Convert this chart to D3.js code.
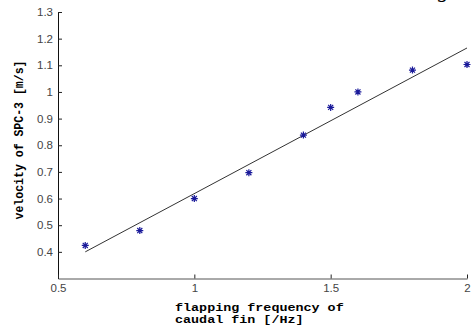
<!DOCTYPE html>
<html>
<head>
<meta charset="utf-8">
<script src="https://cdn.jsdelivr.net/npm/d3@7"></script>
<style>
  body { margin: 0; background: #fff; }
  svg { display: block; }
</style>
</head>
<body>
<div id="chart"></div>
<script>
// measured points (frequency, velocity)
const freq = [0.6, 0.8, 1.0, 1.2, 1.4, 1.5, 1.6, 1.8, 2.0];
const velocity = [0.424, 0.48, 0.6, 0.697, 0.838, 0.942, 1.0, 1.082, 1.103];
// fitted line end points
const fitX = [0.6, 2.0];
const fitY = [0.40, 1.165];
const xTicks = [0.5, 1, 1.5, 2];
const yTicks = [0.4, 0.5, 0.6, 0.7, 0.8, 0.9, 1, 1.1, 1.2, 1.3];

const width = 471, height = 328;
const svg = d3.select('#chart').append('svg')
  .attr('width', width)
  .attr('height', height);

const x = d3.scaleLinear().domain([0.5, 2]).range([58, 467]);
const y = d3.scaleLinear().domain([0.3, 1.3]).range([278.5, 12]);

// cropped fragment of a caption above the figure
svg.append('text')
  .attr('x', 438).attr('y', -3)
  .attr('font-family', 'Liberation Serif')
  .attr('font-style', 'italic')
  .attr('font-size', 22)
  .text('g');

const yAxis = svg.append('g')
  .attr('transform', `translate(${x(0.5)},0)`)
  .call(d3.axisLeft(y).tickValues(yTicks).tickSize(-4).tickSizeOuter(0).tickPadding(5).tickFormat(d => String(d)));

const xAxis = svg.append('g')
  .attr('transform', `translate(0,${y(0.3)})`)
  .call(d3.axisBottom(x).tickValues(xTicks).tickSize(-4).tickSizeOuter(0).tickPadding(5).tickFormat(d => String(d)));

[yAxis, xAxis].forEach(g => {
  g.select('.domain').attr('stroke', '#111');
  g.selectAll('.tick line').attr('stroke', '#222');
  g.selectAll('.tick text')
    .attr('fill', '#444')
    .attr('font-family', 'Liberation Sans, Arial, sans-serif')
    .attr('font-size', 11.5);
});
xAxis.select('.domain').attr('stroke', '#555');

// fit line
svg.append('line')
  .attr('x1', x(fitX[0])).attr('y1', y(fitY[0]))
  .attr('x2', x(fitX[1])).attr('y2', y(fitY[1]))
  .attr('stroke', '#333')
  .attr('stroke-width', 1);

// asterisk markers
const r = 3.5, d = r * 0.72;
svg.append('g')
  .selectAll('path')
  .data(freq.map((f, i) => [f, velocity[i]]))
  .join('path')
  .attr('transform', p => `translate(${x(p[0])},${y(p[1])})`)
  .attr('d', `M${-r},0H${r}M0,${-r}V${r}M${-d},${-d}L${d},${d}M${-d},${d}L${d},${-d}`)
  .attr('stroke', '#1a1a9a')
  .attr('stroke-width', 1.2)
  .attr('fill', 'none');

// axis titles
svg.append('text')
  .attr('transform', 'translate(175,311) scale(1,0.85)')
  .attr('font-family', 'Liberation Mono, Courier New, monospace')
  .attr('font-weight', 'bold')
  .attr('font-size', 13.4)
  .attr('fill', '#000')
  .selectAll('tspan')
  .data(['flapping frequency of', 'caudal fin [/Hz]'])
  .join('tspan')
  .attr('x', 0)
  .attr('dy', (t, i) => i === 0 ? 0 : '1.08em')
  .text(t => t);

svg.append('text')
  .attr('transform', 'translate(23,140) rotate(-90) scale(0.86,1)')
  .attr('text-anchor', 'middle')
  .attr('font-family', 'Liberation Mono, Courier New, monospace')
  .attr('font-weight', 'bold')
  .attr('font-size', 13.4)
  .attr('fill', '#000')
  .text('velocity of SPC-3 [m/s]');
</script>
</body>
</html>
